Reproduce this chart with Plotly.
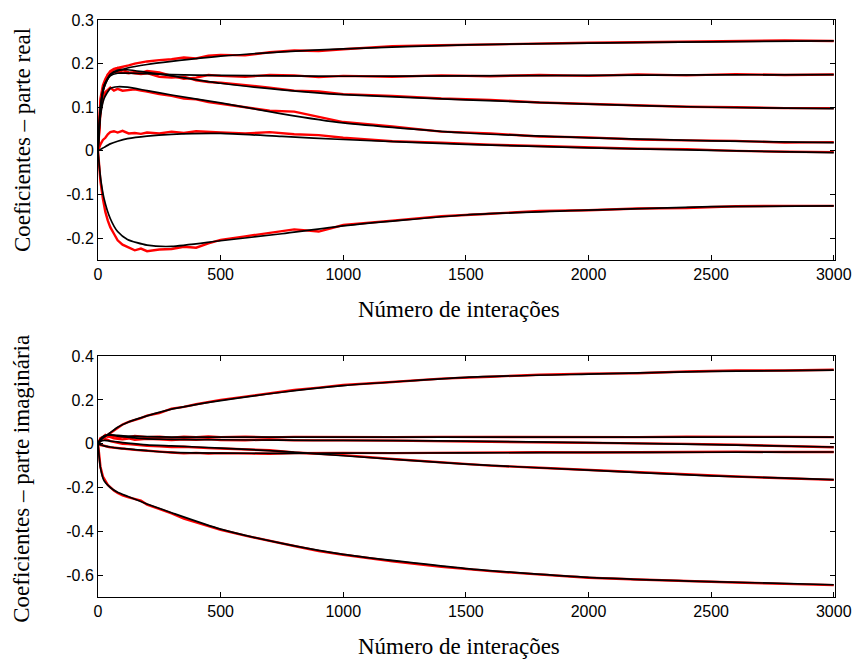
import plotly.graph_objects as go

# ---------------- data ----------------
# iteration samples for the mean (black) curves
x_mean = [0, 10, 25, 50, 80, 120, 200, 300, 500, 750, 1000, 1500, 2000, 2500, 3000]

# real part, mean curves
re_mean_1 = [0, 0.10, 0.15, 0.175, 0.183, 0.19, 0.198, 0.205, 0.217, 0.227, 0.234, 0.243, 0.247, 0.25, 0.252]
re_mean_2 = [0, 0.10, 0.15, 0.172, 0.178, 0.178, 0.177, 0.175, 0.173, 0.172, 0.171, 0.172, 0.173, 0.174, 0.175]
re_mean_3 = [0, 0.09, 0.145, 0.175, 0.185, 0.186, 0.18, 0.172, 0.155, 0.14, 0.129, 0.117, 0.107, 0.1, 0.097]
re_mean_4 = [0, 0.08, 0.12, 0.143, 0.147, 0.146, 0.138, 0.128, 0.11, 0.085, 0.064, 0.041, 0.03, 0.023, 0.019]
re_mean_5 = [0, 0.003, 0.008, 0.016, 0.022, 0.028, 0.034, 0.038, 0.04, 0.033, 0.026, 0.015, 0.007, 0.001, -0.004]
re_mean_6 = [0, -0.06, -0.11, -0.155, -0.185, -0.203, -0.216, -0.219, -0.206, -0.19, -0.172, -0.147, -0.136, -0.128, -0.126]

# imaginary part, mean curves
im_mean_1 = [0, 0.015, 0.03, 0.05, 0.075, 0.097, 0.127, 0.158, 0.197, 0.235, 0.265, 0.303, 0.318, 0.33, 0.336]
im_mean_2 = [0, 0.02, 0.035, 0.04, 0.038, 0.035, 0.032, 0.03, 0.03, 0.03, 0.03, 0.03, 0.03, 0.03, 0.03]
im_mean_3 = [0, 0.02, 0.035, 0.04, 0.035, 0.03, 0.022, 0.02, 0.018, 0.016, 0.015, 0.012, 0.005, -0.004, -0.015]
im_mean_4 = [0, -0.005, -0.01, -0.015, -0.02, -0.024, -0.032, -0.04, -0.043, -0.044, -0.043, -0.042, -0.04, -0.039, -0.038]
im_mean_5 = [0, 0.01, 0.015, 0.012, 0.008, 0.003, -0.005, -0.01, -0.02, -0.035, -0.055, -0.093, -0.121, -0.147, -0.164]
im_mean_6 = [0, -0.11, -0.17, -0.2, -0.222, -0.24, -0.275, -0.315, -0.39, -0.455, -0.505, -0.57, -0.61, -0.63, -0.644]

# iteration samples for the single-run (red) curves
x_run = [0, 5, 10, 20, 30, 40, 50, 65, 80, 100, 125, 150, 175, 200, 250, 300, 350, 400, 450, 500,
         600, 700, 800, 900, 1000, 1200, 1400, 1600, 1800, 2000, 2200, 2400, 2600, 2800, 3000]

re_run_1 = [0, 0.08, 0.12, 0.15, 0.165, 0.175, 0.18, 0.186, 0.19, 0.192, 0.196, 0.2, 0.203, 0.205, 0.208, 0.21, 0.214, 0.212, 0.218, 0.22,
            0.219, 0.226, 0.23, 0.229, 0.233, 0.24, 0.242, 0.244, 0.247, 0.248, 0.249, 0.25, 0.252, 0.253, 0.252]
re_run_2 = [0, 0.07, 0.11, 0.14, 0.158, 0.168, 0.175, 0.18, 0.182, 0.18, 0.178, 0.181, 0.179, 0.183, 0.18, 0.172, 0.165, 0.168, 0.174, 0.172,
            0.17, 0.174, 0.173, 0.169, 0.172, 0.17, 0.173, 0.171, 0.174, 0.172, 0.175, 0.173, 0.176, 0.174, 0.175]
re_run_3 = [0, 0.06, 0.1, 0.14, 0.16, 0.175, 0.183, 0.188, 0.19, 0.185, 0.18, 0.178, 0.176, 0.178, 0.17, 0.168, 0.17, 0.162, 0.158, 0.156,
            0.151, 0.145, 0.138, 0.136, 0.13, 0.126, 0.12, 0.117, 0.111, 0.108, 0.104, 0.101, 0.1, 0.098, 0.098]
re_run_4 = [0, 0.05, 0.09, 0.12, 0.135, 0.14, 0.145, 0.138, 0.142, 0.138, 0.14, 0.141, 0.138, 0.136, 0.13, 0.126, 0.12, 0.118, 0.112, 0.108,
            0.1, 0.092, 0.09, 0.078, 0.066, 0.056, 0.044, 0.04, 0.033, 0.031, 0.026, 0.024, 0.023, 0.019, 0.02]
re_run_5 = [0, 0.01, 0.015, 0.025, 0.03, 0.038, 0.043, 0.045, 0.042, 0.046, 0.04, 0.041, 0.039, 0.042, 0.04, 0.044, 0.041, 0.045, 0.043, 0.042,
            0.04, 0.043, 0.038, 0.036, 0.03, 0.022, 0.019, 0.014, 0.011, 0.008, 0.005, 0.004, 0.0, -0.002, -0.003]
re_run_6 = [0, -0.04, -0.07, -0.11, -0.14, -0.16, -0.175, -0.19, -0.205, -0.215, -0.222, -0.228, -0.224, -0.23, -0.226, -0.225, -0.22, -0.222, -0.212, -0.204,
            -0.196, -0.188, -0.18, -0.185, -0.17, -0.16, -0.15, -0.144, -0.138, -0.136, -0.132, -0.131, -0.127, -0.126, -0.126]

im_run_1 = [0, 0.008, 0.016, 0.025, 0.033, 0.04, 0.048, 0.06, 0.072, 0.088, 0.1, 0.108, 0.117, 0.128, 0.14, 0.16, 0.168, 0.18, 0.19, 0.2,
            0.215, 0.23, 0.245, 0.256, 0.268, 0.282, 0.297, 0.306, 0.315, 0.32, 0.322, 0.33, 0.334, 0.334, 0.338]
im_run_2 = [0, 0.015, 0.025, 0.03, 0.035, 0.032, 0.038, 0.035, 0.03, 0.033, 0.03, 0.035, 0.032, 0.03, 0.032, 0.028, 0.032, 0.03, 0.033, 0.03,
            0.032, 0.029, 0.031, 0.03, 0.032, 0.03, 0.031, 0.03, 0.029, 0.031, 0.03, 0.032, 0.03, 0.031, 0.03]
im_run_3 = [0, 0.01, 0.02, 0.03, 0.04, 0.035, 0.03, 0.025, 0.022, 0.02, 0.024, 0.018, 0.02, 0.022, 0.02, 0.017, 0.02, 0.018, 0.021, 0.017,
            0.016, 0.019, 0.015, 0.016, 0.015, 0.014, 0.012, 0.01, 0.008, 0.005, 0.003, -0.001, -0.005, -0.01, -0.016]
im_run_4 = [0, -0.003, -0.006, -0.008, -0.012, -0.014, -0.016, -0.018, -0.022, -0.024, -0.026, -0.028, -0.03, -0.033, -0.036, -0.04, -0.044, -0.042, -0.045, -0.043,
            -0.044, -0.046, -0.043, -0.044, -0.042, -0.043, -0.041, -0.04, -0.039, -0.04, -0.038, -0.039, -0.037, -0.038, -0.038]
im_run_5 = [0, 0.01, 0.018, 0.025, 0.022, 0.018, 0.012, 0.008, 0.005, 0.0, -0.002, -0.005, -0.008, -0.01, -0.012, -0.015, -0.014, -0.018, -0.02, -0.022,
            -0.025, -0.03, -0.04, -0.047, -0.052, -0.07, -0.084, -0.1, -0.11, -0.12, -0.13, -0.142, -0.15, -0.158, -0.165]
im_run_6 = [0, -0.065, -0.105, -0.15, -0.172, -0.188, -0.198, -0.214, -0.225, -0.236, -0.245, -0.253, -0.26, -0.278, -0.297, -0.318, -0.342, -0.358, -0.376, -0.393,
            -0.42, -0.445, -0.467, -0.49, -0.507, -0.537, -0.562, -0.582, -0.598, -0.612, -0.62, -0.628, -0.634, -0.64, -0.646]

# ticks
x_tick_vals = [0, 500, 1000, 1500, 2000, 2500, 3000]
x_tick_text = ["0", "500", "1000", "1500", "2000", "2500", "3000"]
re_tick_vals = [-0.2, -0.1, 0, 0.1, 0.2, 0.3]
re_tick_text = ["-0.2", "-0.1", "0", "0.1", "0.2", "0.3"]
im_tick_vals = [-0.6, -0.4, -0.2, 0, 0.2, 0.4]
im_tick_text = ["-0.6", "-0.4", "-0.2", "0", "0.2", "0.4"]

x_title = "Número de interações"
re_title = "Coeficientes – parte real"
im_title = "Coeficientes – parte imaginária"

# ---------------- figure ----------------
fig = go.Figure()

re_runs = [re_run_1, re_run_2, re_run_3, re_run_4, re_run_5, re_run_6]
re_means = [re_mean_1, re_mean_2, re_mean_3, re_mean_4, re_mean_5, re_mean_6]
im_runs = [im_run_1, im_run_2, im_run_3, im_run_4, im_run_5, im_run_6]
im_means = [im_mean_1, im_mean_2, im_mean_3, im_mean_4, im_mean_5, im_mean_6]

for runs, means, xa, ya in [(re_runs, re_means, "x", "y"), (im_runs, im_means, "x2", "y2")]:
    for r in runs:
        fig.add_trace(go.Scatter(x=x_run, y=r, mode="lines", xaxis=xa, yaxis=ya,
                                 line=dict(color="#ff0000", width=2.4),
                                 hoverinfo="skip"))
    for m in means:
        fig.add_trace(go.Scatter(x=x_mean, y=m, mode="lines", xaxis=xa, yaxis=ya,
                                 line=dict(color="black", width=1.7, shape="spline", smoothing=0.6),
                                 hoverinfo="skip"))

tick_font = dict(family="Liberation Sans, Arial, sans-serif", size=16, color="black")
axis_common = dict(showline=True, linecolor="black", linewidth=1, mirror="ticks",
                   ticks="inside", ticklen=5, tickwidth=1, tickcolor="black",
                   showgrid=False, zeroline=False, tickfont=tick_font)

fig.update_layout(
    width=864, height=666,
    margin=dict(l=98, r=26, t=15, b=69),
    paper_bgcolor="white", plot_bgcolor="white",
    showlegend=False,
    xaxis=dict(domain=[0, 1], range=[0, 3005], anchor="y",
               tickvals=x_tick_vals, ticktext=x_tick_text, **axis_common),
    yaxis=dict(domain=[0.5842, 1], range=[-0.25, 0.3], anchor="x",
               tickvals=re_tick_vals, ticktext=re_tick_text, **axis_common),
    xaxis2=dict(domain=[0, 1], range=[0, 3005], anchor="y2",
                tickvals=x_tick_vals, ticktext=x_tick_text, **axis_common),
    yaxis2=dict(domain=[0, 0.4175], range=[-0.7, 0.4], anchor="x2",
                tickvals=im_tick_vals, ticktext=im_tick_text, **axis_common),
)

title_font = dict(family="Liberation Serif, Times New Roman, serif", size=23, color="black")
fig.add_annotation(text=x_title, xref="paper", yref="paper", x=0.49, y=0.498,
                   showarrow=False, font=title_font, xanchor="center", yanchor="middle")
fig.add_annotation(text=x_title, xref="paper", yref="paper", x=0.49, y=-0.086,
                   showarrow=False, font=title_font, xanchor="center", yanchor="middle")
fig.add_annotation(text=re_title, xref="paper", yref="paper", x=-0.103, y=0.792,
                   showarrow=False, font=title_font, textangle=-90,
                   xanchor="center", yanchor="middle")
fig.add_annotation(text=im_title, xref="paper", yref="paper", x=-0.103, y=0.205,
                   showarrow=False, font=title_font, textangle=-90,
                   xanchor="center", yanchor="middle")

fig.write_html("out.html", config={"displayModeBar": False},
               post_script="document.body.style.margin='0';")
